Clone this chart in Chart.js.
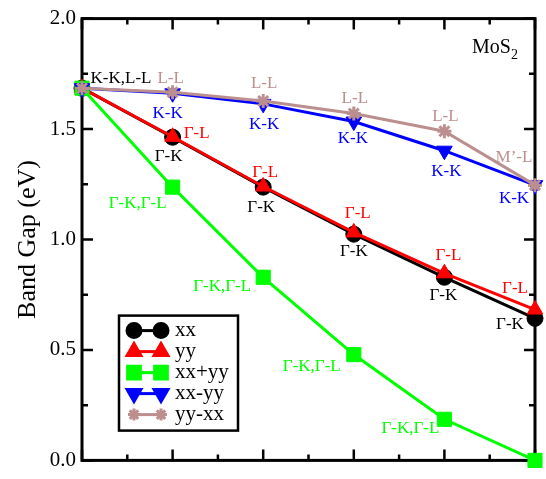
<!DOCTYPE html>
<html>
<head>
    <script src="https://cdn.jsdelivr.net/npm/chart.js@4/dist/chart.umd.min.js"></script>
</head>
<body>
    <canvas id="gapChart" width="546" height="479" role="img" aria-label="Band gap of MoS2"></canvas>
</body>
</html>

<script>
    // DATA
    const steps = [0, 1, 2, 3, 4, 5];
    const seriesNames = ['xx', 'yy', 'xx+yy', 'xx-yy', 'yy-xx'];
    const gapXX = [1.685, 1.463, 1.237, 1.024, 0.829, 0.643];
    const gapYY = [1.685, 1.465, 1.240, 1.032, 0.847, 0.683];
    const gapSum = [1.685, 1.237, 0.829, 0.479, 0.186, 0.0];
    const gapXXminusYY = [1.685, 1.662, 1.614, 1.534, 1.402, 1.246];
    const gapYYminusXX = [1.685, 1.667, 1.627, 1.570, 1.490, 1.246];
    const yTicks = [0.0, 0.5, 1.0, 1.5, 2.0];

    // transition labels: [series, point, text]
    const transitions = [
        [0, 0, 'K-K,L-L'],
        [4, 1, 'L-L'], [4, 2, 'L-L'], [4, 3, 'L-L'], [4, 4, 'L-L'], [4, 5, 'M\u2019-L'],
        [3, 1, 'K-K'], [3, 2, 'K-K'], [3, 3, 'K-K'], [3, 4, 'K-K'], [3, 5, 'K-K'],
        [1, 1, '\u0393-L'], [1, 2, '\u0393-L'], [1, 3, '\u0393-L'], [1, 4, '\u0393-L'], [1, 5, '\u0393-L'],
        [0, 1, '\u0393-K'], [0, 2, '\u0393-K'], [0, 3, '\u0393-K'], [0, 4, '\u0393-K'], [0, 5, '\u0393-K'],
        [2, 1, '\u0393-K,\u0393-L'], [2, 2, '\u0393-K,\u0393-L'], [2, 3, '\u0393-K,\u0393-L'], [2, 4, '\u0393-K,\u0393-L'],
    ];
    // pixel nudges for each label above (same order)
    const nudges = [
        [39, -10],
        [-2, -14], [1, -17], [1, -15], [1, -15], [-21, -28],
        [-5, 20], [1, 21], [-1, 17], [2, 21], [-21, 13],
        [24, -3], [2, -14], [4, -19], [4, -18], [-20, -21],
        [-4, 19], [-2, 20], [0, 17], [-1, 18], [-25, 6],
        [-35, 16], [-41, 9], [-42, 12], [-34, 9],
    ];

    const SERIF = "'Liberation Serif', 'Times New Roman', serif";
    const colors = ['#000000', '#ff0000', '#00ff00', '#0000ff', '#bc8f8f'];
    const markers = [
        { pointStyle: 'circle', radius: 8, rotation: 0 },
        { pointStyle: 'triangle', radius: 9, rotation: 0 },
        { pointStyle: 'rect', radius: 10, rotation: 0 },
        { pointStyle: 'triangle', radius: 9, rotation: 180 },
        { pointStyle: 'star', radius: 7, rotation: 0 },
    ];
    const allSeries = [gapXX, gapYY, gapSum, gapXXminusYY, gapYYminusXX];

    const datasets = allSeries.map((vals, i) => ({
        label: seriesNames[i],
        data: steps.map((x, j) => ({ x: x, y: vals[j] })),
        borderColor: colors[i],
        backgroundColor: colors[i],
        borderWidth: 3,
        pointStyle: markers[i].pointStyle,
        pointRadius: markers[i].radius,
        pointRotation: markers[i].rotation,
        pointBorderWidth: i === 4 ? 3 : 1,
        pointBorderColor: colors[i],
        pointBackgroundColor: colors[i],
        order: 5 - i,
        clip: false,
        tension: 0,
    }));

    // frame with inward ticks, like the original plot
    const framePlugin = {
        id: 'frame',
        beforeDatasetsDraw(chart) {
            const { ctx, chartArea: a, scales } = chart;
            ctx.save();
            ctx.strokeStyle = '#000';
            ctx.lineWidth = 3;
            ctx.strokeRect(a.left, a.top, a.right - a.left, a.bottom - a.top);
            ctx.lineWidth = 2.5;
            ctx.beginPath();
            for (let v = 0; v <= 5; v += 0.5) {
                const px = scales.x.getPixelForValue(v);
                const len = Number.isInteger(v) ? 11 : 6;
                ctx.moveTo(px, a.bottom); ctx.lineTo(px, a.bottom - len);
                ctx.moveTo(px, a.top); ctx.lineTo(px, a.top + len);
            }
            for (let v = 0; v <= 2; v += 0.25) {
                const py = scales.y.getPixelForValue(v);
                const len = (v * 2) % 1 === 0 ? 11 : 6;
                ctx.moveTo(a.left, py); ctx.lineTo(a.left + len, py);
                ctx.moveTo(a.right, py); ctx.lineTo(a.right - len, py);
            }
            ctx.stroke();
            ctx.restore();
        }
    };

    const labelPlugin = {
        id: 'transitions',
        afterDatasetsDraw(chart) {
            const { ctx, scales, chartArea: a } = chart;
            ctx.save();
            ctx.font = '17px ' + SERIF;
            ctx.textAlign = 'center';
            ctx.textBaseline = 'middle';
            transitions.forEach(([s, j, text], k) => {
                const px = scales.x.getPixelForValue(steps[j]);
                const py = scales.y.getPixelForValue(allSeries[s][j]);
                ctx.fillStyle = colors[s];
                ctx.fillText(text, px + nudges[k][0], py + nudges[k][1]);
            });
            // compound name
            ctx.fillStyle = '#000';
            ctx.textAlign = 'left';
            ctx.textBaseline = 'alphabetic';
            ctx.font = '20px ' + SERIF;
            const mx = a.right - 63, my = a.top + 34;
            ctx.fillText('MoS', mx, my);
            const w = ctx.measureText('MoS').width;
            ctx.font = '14px ' + SERIF;
            ctx.fillText('2', mx + w, my + 6);
            ctx.restore();
        }
    };

    const legendPlugin = {
        id: 'boxLegend',
        afterDraw(chart) {
            const { ctx, chartArea: a } = chart;
            const left = a.left + 37, top = a.top + 297, w = 119, h = 115;
            ctx.save();
            ctx.fillStyle = '#fff';
            ctx.fillRect(left, top, w, h);
            ctx.strokeStyle = '#000';
            ctx.lineWidth = 2.5;
            ctx.strokeRect(left, top, w, h);
            chart.data.datasets.forEach((ds, i) => {
                const y = top + 15 + i * 21;
                const x1 = left + 15, x2 = left + 42;
                ctx.strokeStyle = colors[i];
                ctx.fillStyle = colors[i];
                ctx.lineWidth = 3;
                ctx.beginPath();
                ctx.moveTo(x1, y); ctx.lineTo(x2, y);
                ctx.stroke();
                const opts = {
                    pointStyle: markers[i].pointStyle,
                    radius: markers[i].radius - 1,
                    rotation: markers[i].rotation,
                    borderWidth: i === 4 ? 3 : 1,
                };
                Chart.helpers.drawPoint(ctx, opts, x1, y);
                Chart.helpers.drawPoint(ctx, opts, x2, y);
                ctx.fillStyle = '#000';
                ctx.font = '21px ' + SERIF;
                ctx.textBaseline = 'middle';
                ctx.fillText(ds.label, left + 56, y);
            });
            ctx.restore();
        }
    };

    new Chart(document.getElementById('gapChart'), {
        type: 'line',
        data: { datasets: datasets },
        options: {
            responsive: false,
            animation: false,
            layout: { padding: { top: 15, right: 11, bottom: 13, left: 0 } },
            plugins: { legend: { display: false }, tooltip: { enabled: false } },
            scales: {
                x: {
                    type: 'linear',
                    min: 0,
                    max: 5,
                    grid: { display: false },
                    border: { display: false },
                    ticks: { display: false },
                    afterFit: (s) => { s.height = 0; },
                },
                y: {
                    min: 0,
                    max: 2,
                    afterBuildTicks: (s) => { s.ticks = yTicks.map(v => ({ value: v })); },
                    grid: { display: false, drawTicks: false },
                    border: { display: false },
                    ticks: {
                        color: '#000',
                        padding: 6,
                        font: { family: SERIF, size: 21 },
                        callback: (v) => v.toFixed(1),
                    },
                    title: {
                        display: true,
                        text: 'Band Gap (eV)',
                        color: '#000',
                        font: { family: SERIF, size: 26 },
                        padding: { top: 13, bottom: 0 },
                    },
                    afterFit: (s) => { s.width = 82; },
                }
            }
        },
        plugins: [framePlugin, labelPlugin, legendPlugin]
    });
</script>

<style>
body {
    margin: 0;
    background: #fff;
}
</style>
